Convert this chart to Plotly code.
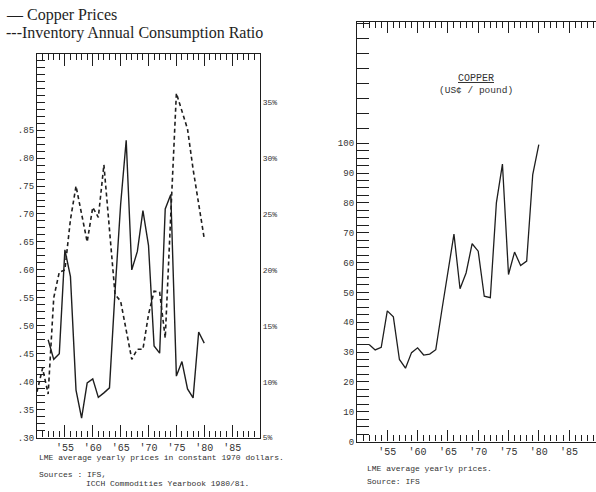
import plotly.graph_objects as go

# ---------------- data ----------------
price_years = list(range(1952, 1981))
real_price = [0.475, 0.440, 0.450, 0.636, 0.588, 0.385, 0.335, 0.398, 0.405, 0.372,
              0.380, 0.389, 0.562, 0.717, 0.832, 0.600, 0.633, 0.706, 0.644, 0.464,
              0.451, 0.709, 0.735, 0.410, 0.436, 0.387, 0.371, 0.489, 0.469]

ratio_years = list(range(1950, 1981))
inv_ratio = [9.1, 11.2, 8.9, 17.5, 19.8, 20.0, 24.5, 27.5, 25.0, 22.5,
             25.6, 24.7, 29.4, 23.5, 17.8, 17.2, 14.5, 12.0, 12.9, 12.9,
             16.0, 18.1, 18.0, 13.9, 25.0, 35.8, 34.2, 32.6, 29.0, 25.8, 22.8]

nominal_price = [32.5, 30.7, 31.6, 43.8, 41.8, 27.5, 24.6, 29.8, 31.4, 29.0,
                 29.3, 30.8, 44.0, 57.5, 69.5, 51.2, 56.5, 66.3, 63.8, 48.7,
                 48.2, 80.0, 93.0, 56.0, 63.5, 59.0, 60.5, 89.5, 99.5]

year_ticks = [1955, 1960, 1965, 1970, 1975, 1980, 1985]
year_labels = ["'55", "'60", "'65", "'70", "'75", "'80", "'85"]

left_ticks = [0.30, 0.35, 0.40, 0.45, 0.50, 0.55, 0.60, 0.65, 0.70, 0.75, 0.80, 0.85, 0.90, 0.95]
left_labels = [".30", ".35", ".40", ".45", ".50", ".55", ".60", ".65", ".70", ".75", ".80", ".85", "", ""]

pct_ticks = [5, 10, 15, 20, 25, 30, 35]
pct_labels = ["5%", "10%", "15%", "20%", "25%", "30%", "35%"]

right_ticks = [i * 2.5 for i in range(41)] + [105, 110, 115, 120, 125, 130, 135, 140]
right_labels = [str(int(v)) if (v % 10 == 0 and v <= 100) else "" for v in right_ticks]

# ---------------- figure ----------------
W, H = 596, 492
def px(x):
    return x / W
def py(y):
    return 1 - y / H

INK = "#1e1e1e"
MONO = "Liberation Mono"

fig = go.Figure()
fig.add_trace(go.Scatter(x=price_years, y=real_price, mode="lines",
                         line=dict(color=INK, width=1.4), xaxis="x", yaxis="y",
                         showlegend=False))
fig.add_trace(go.Scatter(x=ratio_years, y=inv_ratio, mode="lines",
                         line=dict(color=INK, width=1.6, dash="4px,3px"), xaxis="x", yaxis="y2",
                         showlegend=False))
fig.add_trace(go.Scatter(x=price_years, y=nominal_price, mode="lines",
                         line=dict(color=INK, width=1.3), xaxis="x2", yaxis="y3",
                         showlegend=False))

axis_common = dict(showgrid=False, zeroline=False, showline=True, linecolor=INK, linewidth=1.3,
                   tickcolor=INK, tickwidth=1.1, fixedrange=True)

fig.update_layout(
    width=W, height=H, margin=dict(l=0, r=0, t=0, b=0),
    paper_bgcolor="white", plot_bgcolor="white",
    xaxis=dict(domain=[px(37), px(260)], range=[1950, 1990], anchor="y",
               tickmode="array", tickvals=year_ticks, ticktext=year_labels,
               ticks="inside", ticklen=12, mirror="ticks",
               minor=dict(ticks="inside", tick0=1950, dtick=1, ticklen=6, tickcolor=INK),
               tickfont=dict(family=MONO, size=10, color="#333"), **axis_common),
    yaxis=dict(domain=[py(443), py(55)], range=[0.30, 0.9856], anchor="x",
               tickmode="array", tickvals=left_ticks, ticktext=left_labels,
               ticks="inside", ticklen=8,
               minor=dict(ticks="inside", tick0=0.30, dtick=0.0125, ticklen=8, tickcolor=INK),
               tickfont=dict(family=MONO, size=9, color="#333"), **axis_common),
    yaxis2=dict(overlaying="y", side="right", anchor="x", range=[5, 39.28],
                tickmode="array", tickvals=pct_ticks, ticktext=pct_labels, ticks="",
                tickfont=dict(family=MONO, size=8, color="#333"), **axis_common),
    xaxis2=dict(domain=[px(357), 1.0], range=[1950, 1989.44], anchor="y3",
                tickmode="array", tickvals=year_ticks, ticktext=year_labels,
                ticks="inside", ticklen=11, mirror="ticks",
                minor=dict(ticks="inside", tick0=1950, dtick=1, ticklen=6, tickcolor=INK),
                tickfont=dict(family=MONO, size=10, color="#333"), **axis_common),
    yaxis3=dict(domain=[py(447), py(22)], range=[0, 140.7], anchor="x2",
                tickmode="array", tickvals=right_ticks, ticktext=right_labels,
                ticks="inside", ticklen=12,
                tickfont=dict(family=MONO, size=9, color="#333"), **axis_common),
)

SERIF = "Liberation Serif"
ann = [
    dict(text="\u2014 Copper Prices", x=px(4), y=py(15), xanchor="left", yanchor="middle",
         font=dict(family=SERIF, size=16, color=INK)),
    dict(text="---Inventory Annual Consumption Ratio", x=px(4), y=py(33),
         xanchor="left", yanchor="middle", font=dict(family=SERIF, size=16, color=INK)),
    dict(text="LME average yearly prices in constant 1970 dollars.", x=px(37), y=py(463),
         xanchor="left", yanchor="middle", font=dict(family=MONO, size=8, color="#333")),
    dict(text="Sources : IFS,", x=px(37), y=py(480),
         xanchor="left", yanchor="middle", font=dict(family=MONO, size=8, color="#333")),
    dict(text="ICCH Commodities Yearbook 1980/81.", x=px(84), y=py(489),
         xanchor="left", yanchor="middle", font=dict(family=MONO, size=8, color="#333")),
    dict(text="LME average yearly prices.", x=px(365), y=py(474),
         xanchor="left", yanchor="middle", font=dict(family=MONO, size=8, color="#333")),
    dict(text="Source: IFS", x=px(365), y=py(487),
         xanchor="left", yanchor="middle", font=dict(family=MONO, size=8, color="#333")),
    dict(text="<u>COPPER</u>", x=px(476), y=py(79),
         xanchor="center", yanchor="middle", font=dict(family=MONO, size=10, color="#333")),
    dict(text="(US\u00a2 / pound)", x=px(476), y=py(92),
         xanchor="center", yanchor="middle", font=dict(family=MONO, size=9.5, color="#333")),
]
for a in ann:
    a.update(xref="paper", yref="paper", showarrow=False)
fig.update_layout(annotations=ann)

fig.write_html("out.html")
